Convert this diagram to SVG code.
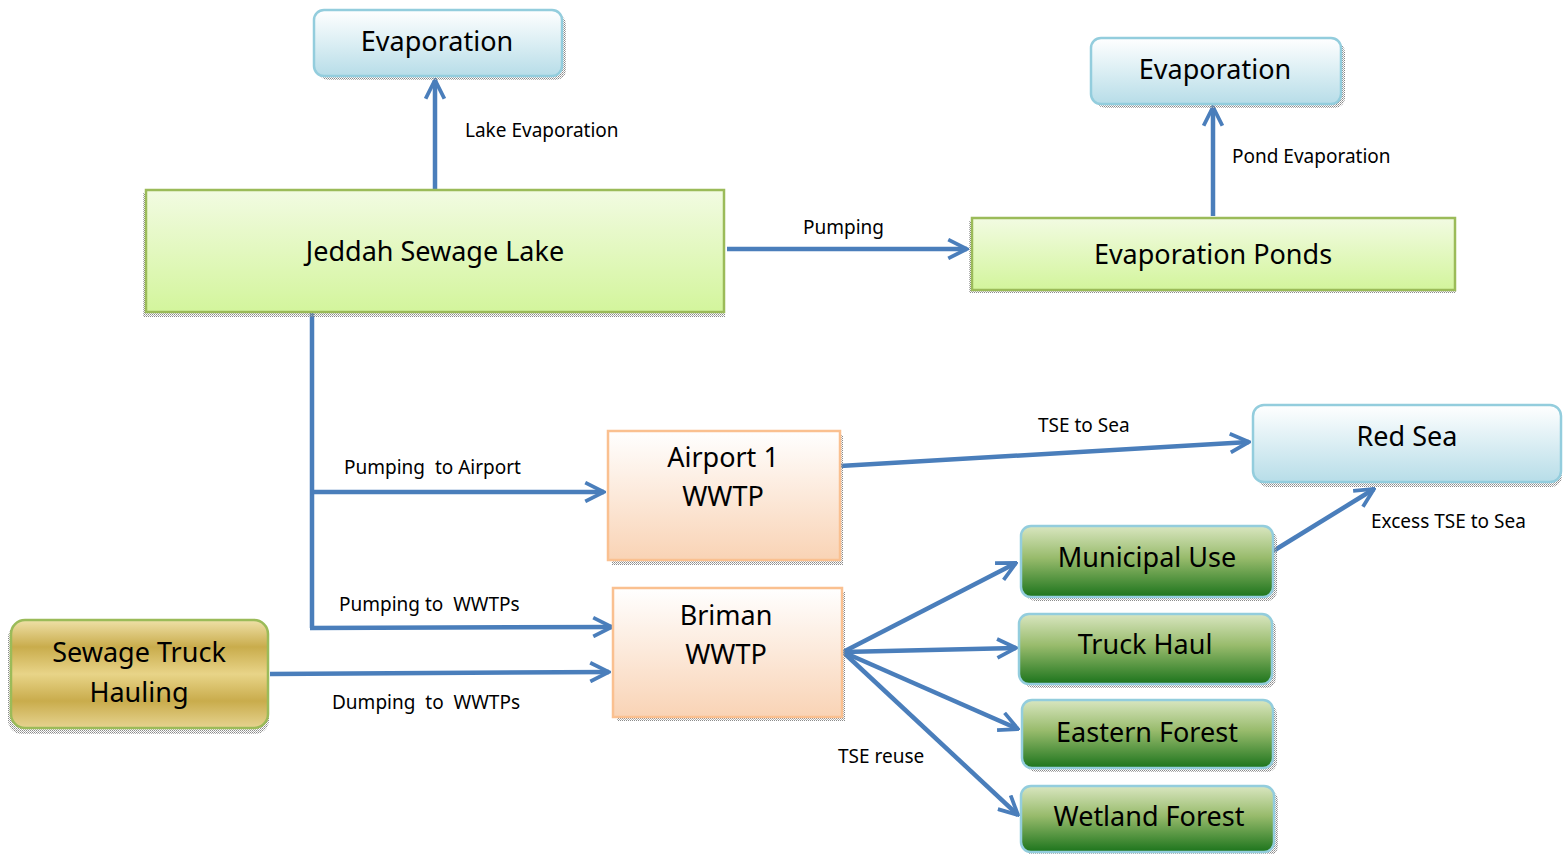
<svg xmlns="http://www.w3.org/2000/svg" width="1564" height="854" viewBox="0 0 1564 854">
<defs>
<linearGradient id="gBlue" x1="0" y1="0" x2="0" y2="1"><stop offset="0" stop-color="#ffffff"/><stop offset="1" stop-color="#b7dde8"/></linearGradient>
<linearGradient id="gLime" x1="0" y1="0" x2="0" y2="1"><stop offset="0" stop-color="#f2fbe2"/><stop offset="1" stop-color="#d3f59c"/></linearGradient>
<linearGradient id="gPeach" x1="0" y1="0" x2="0" y2="1"><stop offset="0" stop-color="#ffffff"/><stop offset="1" stop-color="#f9d3b5"/></linearGradient>
<linearGradient id="gGreen" x1="0" y1="0" x2="0" y2="1"><stop offset="0" stop-color="#d9e6c0"/><stop offset="0.45" stop-color="#98bb6c"/><stop offset="1" stop-color="#1c741c"/></linearGradient>
<linearGradient id="gGold" x1="0" y1="0" x2="0" y2="1"><stop offset="0" stop-color="#efe1a8"/><stop offset="0.25" stop-color="#c9ac4c"/><stop offset="0.5" stop-color="#e8d488"/><stop offset="0.75" stop-color="#c9ac4c"/><stop offset="1" stop-color="#e6d390"/></linearGradient>
<pattern id="dith" width="2" height="2" patternUnits="userSpaceOnUse"><rect width="1" height="1" fill="#8a8a8a"/><rect x="1" y="1" width="1" height="1" fill="#b0b0b0"/></pattern>
<marker id="arr" viewBox="0 0 12 12" refX="11" refY="6" markerWidth="5" markerHeight="5" markerUnits="strokeWidth" orient="auto">
<path d="M1,1 L11,6 L1,11" fill="none" stroke="#4a7ebb" stroke-width="2" stroke-linejoin="miter"/>
</marker>
</defs>
<style>
.lbl{font-family:"Noto Sans","Open Sans",sans-serif;font-size:19px;fill:#000}
.big{font-family:"Noto Sans","Open Sans",sans-serif;font-size:27px;fill:#000;text-anchor:middle}
.conn{fill:none;stroke:#4a7ebb;stroke-width:4.5}
.shadow{fill:url(#dith)}
.blue{fill:url(#gBlue);stroke:#93cddd;stroke-width:2.5}
.lime{fill:url(#gLime);stroke:#9bbb59;stroke-width:2.5}
.peach{fill:url(#gPeach);stroke:#fac090;stroke-width:2.5}
.green{fill:url(#gGreen);stroke:#93cddd;stroke-width:2.5}
.gold{fill:url(#gGold);stroke:#9bbb59;stroke-width:2.5}
</style>

<g id="connectors">
<line class="conn" x1="435" y1="190" x2="435" y2="80" marker-end="url(#arr)"/>
<line class="conn" x1="1213" y1="216" x2="1213" y2="107" marker-end="url(#arr)"/>
<line class="conn" x1="727" y1="249" x2="967" y2="249" marker-end="url(#arr)"/>
<polyline class="conn" points="312,312 312,628"/>
<line class="conn" x1="310" y1="492" x2="604" y2="492" marker-end="url(#arr)"/>
<line class="conn" x1="310" y1="628" x2="612" y2="627" marker-end="url(#arr)"/>
<line class="conn" x1="270" y1="674" x2="609" y2="672" marker-end="url(#arr)"/>
<line class="conn" x1="840" y1="466" x2="1249" y2="442" marker-end="url(#arr)"/>
<line class="conn" x1="1270" y1="553" x2="1374" y2="489" marker-end="url(#arr)"/>
<line class="conn" x1="843" y1="652" x2="1016" y2="563" marker-end="url(#arr)"/>
<line class="conn" x1="843" y1="652" x2="1016" y2="648" marker-end="url(#arr)"/>
<line class="conn" x1="843" y1="652" x2="1018" y2="729" marker-end="url(#arr)"/>
<line class="conn" x1="843" y1="652" x2="1018" y2="815" marker-end="url(#arr)"/>
<text class="lbl" x="465" y="137">Lake Evaporation</text>
<text class="lbl" x="1232" y="163">Pond Evaporation</text>
<text class="lbl" x="803" y="234">Pumping</text>
<text class="lbl" x="344" y="474" xml:space="preserve">Pumping  to Airport</text>
<text class="lbl" x="339" y="611" xml:space="preserve">Pumping to  WWTPs</text>
<text class="lbl" x="332" y="709" xml:space="preserve">Dumping  to  WWTPs</text>
<text class="lbl" x="1038" y="432">TSE to Sea</text>
<text class="lbl" x="1371" y="528">Excess TSE to Sea</text>
<text class="lbl" x="838" y="763">TSE reuse</text>
</g>

<g id="evap1">
<rect class="shadow" x="318" y="14" width="248" height="66" rx="10"/>
<rect class="blue" x="314" y="10" width="248" height="66" rx="10"/>
<text class="big" x="437" y="51">Evaporation</text>
</g>
<g id="evap2">
<rect class="shadow" x="1095" y="42" width="250" height="66" rx="10"/>
<rect class="blue" x="1091" y="38" width="250" height="66" rx="10"/>
<text class="big" x="1215" y="79">Evaporation</text>
</g>
<g id="lake">
<rect class="shadow" x="143" y="193" width="582" height="124"/>
<rect class="lime" x="146" y="190" width="578" height="122"/>
<text class="big" x="435" y="261">Jeddah Sewage Lake</text>
</g>
<g id="ponds">
<rect class="shadow" x="969" y="221" width="487" height="72"/>
<rect class="lime" x="972" y="218" width="483" height="72"/>
<text class="big" x="1213" y="264">Evaporation Ponds</text>
</g>
<g id="airport">
<rect class="shadow" x="612" y="435" width="231" height="130"/>
<rect class="peach" x="608" y="431" width="232" height="129"/>
<text class="big" x="723" y="467">Airport 1</text>
<text class="big" x="723" y="506">WWTP</text>
</g>
<g id="briman">
<rect class="shadow" x="617" y="592" width="228" height="129"/>
<rect class="peach" x="613" y="588" width="229" height="129"/>
<text class="big" x="726" y="625">Briman</text>
<text class="big" x="726" y="664">WWTP</text>
</g>
<g id="redsea">
<rect class="shadow" x="1257" y="409" width="305" height="78" rx="11"/>
<rect class="blue" x="1253" y="405" width="308" height="77" rx="11"/>
<text class="big" x="1407" y="446">Red Sea</text>
</g>
<g id="municipal">
<rect class="shadow" x="1025" y="530" width="252" height="71" rx="10"/>
<rect class="green" x="1021" y="526" width="252" height="71" rx="10"/>
<text class="big" x="1147" y="567">Municipal Use</text>
</g>
<g id="truckhaul">
<rect class="shadow" x="1023" y="618" width="253" height="70" rx="10"/>
<rect class="green" x="1019" y="614" width="253" height="70" rx="10"/>
<text class="big" x="1145" y="654">Truck Haul</text>
</g>
<g id="eastern">
<rect class="shadow" x="1026" y="704" width="251" height="68" rx="10"/>
<rect class="green" x="1022" y="700" width="251" height="68" rx="10"/>
<text class="big" x="1147" y="742">Eastern Forest</text>
</g>
<g id="wetland">
<rect class="shadow" x="1025" y="790" width="253" height="66" rx="10"/>
<rect class="green" x="1021" y="786" width="253" height="66" rx="10"/>
<text class="big" x="1149" y="826">Wetland Forest</text>
</g>
<g id="truck">
<rect class="shadow" x="8" y="624" width="261" height="110" rx="14"/>
<rect class="gold" x="11" y="620" width="257" height="108" rx="14"/>
<text class="big" x="139" y="662">Sewage Truck</text>
<text class="big" x="139" y="702">Hauling</text>
</g>
</svg>
